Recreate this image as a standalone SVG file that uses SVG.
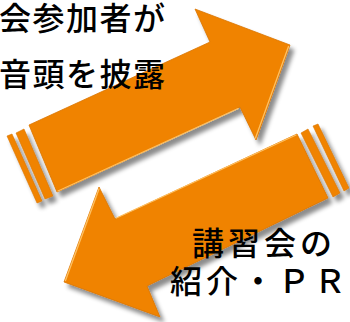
<svg xmlns="http://www.w3.org/2000/svg" width="350" height="322" viewBox="0 0 350 322">
  <defs>
    <filter id="shadow" x="-20%" y="-20%" width="140%" height="140%">
      <feGaussianBlur in="SourceAlpha" stdDeviation="2.2"/>
      <feOffset dx="4" dy="5" result="b"/>
      <feFlood flood-color="#000" flood-opacity="0.45"/>
      <feComposite in2="b" operator="in"/>
      <feMerge>
        <feMergeNode/>
        <feMergeNode in="SourceGraphic"/>
      </feMerge>
    </filter>
  </defs>
  <style>
    .arrow { fill: #F08300; stroke: #D97500; stroke-width: 0.8; stroke-linejoin: miter; }
    .stripe { fill: #F08300; stroke: #D97500; stroke-width: 0.6; }
    .hl { fill: none; stroke: #FFC060; stroke-width: 1.3; stroke-linecap: round; }
    .lbl { font-family: "Noto Sans CJK JP", "Noto Sans", sans-serif; font-size: 32px; font-weight: 500; fill: #000; }
  </style>
  <rect width="350" height="322" fill="#fff"/>

  <g id="arrow-up" filter="url(#shadow)">
    <polygon class="stripe" points="7,136 12,134 42,201 37,203"/>
    <polygon class="stripe" points="16,133 24,129 53,196 45,199"/>
    <polygon class="arrow" points="29,125 210,42 195,9 290,45 256,140 240,107 57,192"/>
    <polyline class="hl" points="288.5,46.5 255.5,138"/>
    <polyline class="hl" points="238,108.5 58,191"/>
  </g>

  <g id="arrow-down" filter="url(#shadow)">
    <polygon class="stripe" points="313,126 318,124 349,188 344,191"/>
    <polygon class="stripe" points="301,133 308,129 340,193 333,197"/>
    <polygon class="arrow" points="297,134 328,198 147,286 160,317 64,282 99,187 115,219"/>
    <polyline class="hl" points="65.5,280.5 99,189"/>
    <polyline class="hl" points="116.5,218 296,135"/>
  </g>

  <g id="label-top">
    <text class="lbl" x="-1" y="30" letter-spacing="1.5">会参加者が</text>
    <text class="lbl" x="-1" y="86" letter-spacing="1.5">音頭を披露</text>
  </g>
  <g id="label-bottom">
    <text class="lbl" x="192" y="255" letter-spacing="4">講習会の</text>
    <text class="lbl" x="170" y="293" letter-spacing="4">紹介・ＰＲ</text>
  </g>
</svg>
